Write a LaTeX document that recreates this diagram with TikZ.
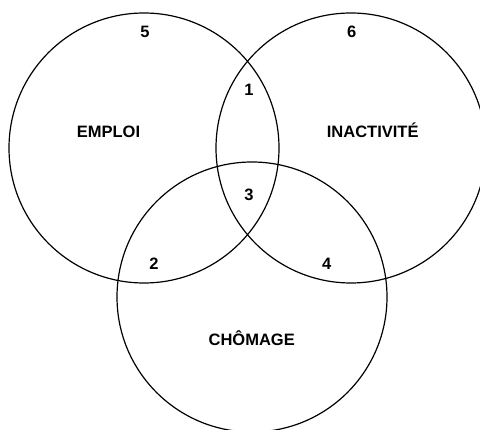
\documentclass[tikz,border=0pt]{standalone}
\usepackage{fontspec}
\setmainfont{Liberation Sans}
\begin{document}
\begin{tikzpicture}[x=1pt,y=-1pt,
  setcircle/.style={circle, draw=black, line width=1.2pt, minimum size=270pt, inner sep=0pt},
  lbl/.style={anchor=base, inner sep=0pt, font=\fontsize{16.5}{19}\selectfont\bfseries}]
\useasboundingbox (0,0) rectangle (480,430);
\clip (0,0) rectangle (480,430);
\node[setcircle] (cE) at (144,148) {};
\node[setcircle] (cI) at (351,148) {};
\node[setcircle] (cC) at (252,297) {};
\node[lbl] (tE) at (108.5,137.7) {EMPLOI};
\node[lbl] (tI) at (372.7,137.7) {INACTIVITÉ};
\node[lbl] (tC) at (251.7,346) {CHÔMAGE};
\node[lbl] (n5) at (145,37.3) {5};
\node[lbl] (n6) at (351.7,37.3) {6};
\node[lbl] (n1) at (249,96) {1};
\node[lbl] (n3) at (249,200.7) {3};
\node[lbl] (n2) at (154,270) {2};
\node[lbl] (n4) at (326.7,270) {4};
\end{tikzpicture}
\end{document}
